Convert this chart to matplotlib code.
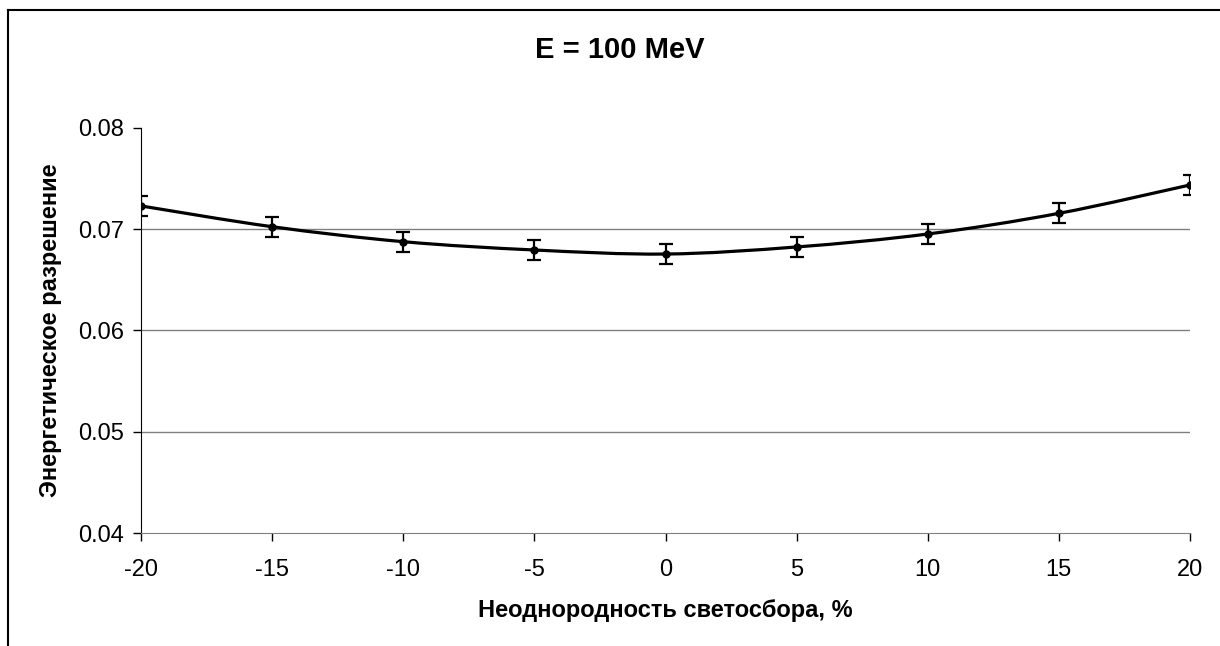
import matplotlib
matplotlib.use("Agg")
import matplotlib.pyplot as plt
import numpy as np
from matplotlib.path import Path
from matplotlib.patches import PathPatch
from matplotlib.lines import Line2D

plt.rcParams['font.family'] = ['Liberation Sans', 'DejaVu Sans']
plt.rcParams['axes.unicode_minus'] = False

# data
nonuniformity = [-20, -15, -10, -5, 0, 5, 10, 15, 20]
resolution = [0.0723, 0.07025, 0.06877, 0.06795, 0.06755, 0.06825, 0.06953, 0.07157, 0.07437]
errors = [0.001, 0.001, 0.001, 0.001, 0.001, 0.001, 0.001, 0.001, 0.001]
y_ticks = [0.04, 0.05, 0.06, 0.07, 0.08]
x_ticks = [-20, -15, -10, -5, 0, 5, 10, 15, 20]


# smooth line like Excel: cubic bezier with catmull-rom control points
def smooth_path(xs, ys):
    pts = np.column_stack([xs, ys])
    verts = [pts[0]]
    codes = [Path.MOVETO]
    n = len(pts)
    for i in range(n - 1):
        p0 = pts[max(i - 1, 0)]
        p1 = pts[i]
        p2 = pts[i + 1]
        p3 = pts[min(i + 2, n - 1)]
        c1 = p1 + (p2 - p0) / 6.0
        c2 = p2 - (p3 - p1) / 6.0
        verts += [c1, c2, p2]
        codes += [Path.CURVE4] * 3
    return Path(verts, codes)


fig = plt.figure(figsize=(12.2, 6.46), dpi=100)
ax = fig.add_axes([0.1156, 0.1749, 0.8598, 0.627])

for y in [0.05, 0.06, 0.07]:
    ax.axhline(y, color='#808080', lw=1.0, zorder=1)

ax.add_patch(PathPatch(smooth_path(nonuniformity, resolution), fill=False,
                       edgecolor='black', lw=2.3, zorder=3))
ax.errorbar(nonuniformity, resolution, yerr=errors, fmt='o', color='black',
            ms=5, elinewidth=1.6, capsize=5, capthick=1.6, zorder=4)

ax.set_xlim(-20, 20)
ax.set_ylim(0.04, 0.08)
ax.set_xticks(x_ticks)
ax.set_yticks(y_ticks)
ax.set_yticklabels(['%.2f' % v for v in y_ticks])
ax.tick_params(direction='out', length=6, width=1, labelsize=17)
ax.tick_params(axis='x', pad=13)
ax.tick_params(axis='y', pad=6)
ax.spines['top'].set_visible(False)
ax.spines['right'].set_visible(False)
ax.spines['bottom'].set_color('#808080')
ax.spines['left'].set_color('black')

ax.set_xlabel('Неоднородность светосбора, %', fontsize=17, fontweight='bold', labelpad=13)
ax.set_ylabel('Энергетическое разрешение', fontsize=17, fontweight='bold', labelpad=12)
fig.text(0.508, 0.922, 'E = 100 MeV', ha='center', va='center', fontsize=21, fontweight='bold')

# chart frame (left and top edges)
fig.add_artist(Line2D([8 / 1220, 8 / 1220], [0, 1 - 10 / 646], color='black', lw=1.5))
fig.add_artist(Line2D([8 / 1220, 1], [1 - 10 / 646, 1 - 10 / 646], color='black', lw=1.5))

fig.savefig('out.png', dpi=100)
